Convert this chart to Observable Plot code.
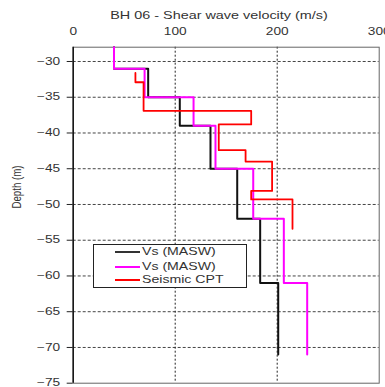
<!DOCTYPE html>
<html>
<head>
<meta charset="utf-8">
<script src="https://cdn.jsdelivr.net/npm/d3@7"></script>
<script src="https://cdn.jsdelivr.net/npm/@observablehq/plot@0.6"></script>
<style>
  html, body { margin: 0; padding: 0; background: #fff; overflow: hidden; }
  #wrap { position: relative; width: 385px; height: 387px; font-family: "Liberation Sans", Arial, sans-serif; color: #333; }
  .lbl { position: absolute; white-space: nowrap; line-height: 1; }
</style>
</head>
<body>
<div id="wrap"></div>
<script>
// ---- data ----
const titleText = "BH 06 - Shear wave velocity (m/s)";
const yLabel = "Depth (m)";
const seriesNames = ["Vs (MASW)", "Vs (MASW)", "Seismic CPT"];
const seriesColors = ["#111111", "#ff00ff", "#ff0000"];
const xTicks = [0, 100, 200, 300];
const yTicks = [-75, -70, -65, -60, -55, -50, -45, -40, -35, -30];

// layer boundaries (depth, m) and layer velocities (m/s)
const masw1Depth = [-28, -31, -35, -39, -45, -52, -61, -71];
const masw1Vs = [40, 73.5, 104.5, 134.6, 160.8, 183.3, 201];
const masw2Depth = [-28, -31, -35, -39, -45, -52, -61, -71];
const masw2Vs = [40, 70, 118, 139.5, 176.5, 206.5, 229.4];
const cptDepth = [-31.6, -32.9, -36.9, -38.8, -42.4, -44.0, -48.1, -49.3, -53.4];
const cptVs = [61, 69, 174.5, 142.7, 169, 195, 174.5, 215];

function steps(depth, vs) {
  const pts = [];
  vs.forEach((v, i) => {
    pts.push({v, d: depth[i]});
    pts.push({v, d: depth[i + 1]});
  });
  return pts;
}
const series = [steps(masw1Depth, masw1Vs), steps(masw2Depth, masw2Vs), steps(cptDepth, cptVs)];

const SX = 1.37;

const chart = Plot.plot({
  width: 385,
  height: 387,
  marginLeft: 72.7,
  marginRight: 6.3,
  marginTop: 46.7,
  marginBottom: 4.3,
  style: {fontFamily: "'Liberation Sans', Arial, sans-serif", fontSize: "10px", color: "#333", background: "#fff"},
  x: {domain: [0, 300]},
  y: {domain: [-75, -28]},
  marks: [
    Plot.gridY(yTicks.filter(t => t > -75), {stroke: "#444", strokeOpacity: 1, strokeDasharray: "3,2"}),
    Plot.gridX(xTicks.filter(t => t > 0 && t < 300), {stroke: "#222", strokeOpacity: 1, strokeDasharray: "2,2"}),
    Plot.frame({stroke: "#666"}),
    Plot.ruleX([0], {stroke: "#111", strokeWidth: 1.5}),
    Plot.axisX({anchor: "top", ticks: xTicks, tickSize: 0, tickPadding: 12, label: null, fill: "#333", fontSize: 10}),
    Plot.axisY({ticks: yTicks, tickSize: 6, tickPadding: 7, label: null, fill: "#333", stroke: "#222", fontSize: 10}),
    ...series.map((s, i) => Plot.line(s, {x: "v", y: "d", stroke: seriesColors[i], strokeWidth: i === 2 ? 1.8 : 2}))
  ]
});

// horizontal stretch of text, as in the reference
chart.querySelectorAll("text").forEach(t => {
  const tr = t.getAttribute("transform");
  if (tr) t.setAttribute("transform", tr + ` scale(${SX},1)`);
});

const wrap = document.getElementById("wrap");
chart.style.position = "absolute";
chart.style.left = "0px";
chart.style.top = "0px";
wrap.appendChild(chart);

// title
const title = document.createElement("div");
title.className = "lbl";
title.textContent = titleText;
Object.assign(title.style, {left: "219px", top: "15px", fontSize: "10.5px", transform: `translate(-50%,-50%) scaleX(${SX})`});
wrap.appendChild(title);

// y label
const yl = document.createElement("div");
yl.className = "lbl";
yl.textContent = yLabel;
Object.assign(yl.style, {left: "16.7px", top: "186.5px", fontSize: "9.7px", transform: `translate(-50%,-50%) rotate(-90deg) scaleY(1.3)`});
wrap.appendChild(yl);

// legend
const leg = document.createElement("div");
Object.assign(leg.style, {position: "absolute", left: "93.3px", top: "244px", width: "151.4px", height: "41.7px", border: "1px solid #222", background: "#fff"});
wrap.appendChild(leg);
const rowY = [6.7, 21.7, 35];
seriesNames.forEach((name, i) => {
  const line = document.createElement("div");
  Object.assign(line.style, {position: "absolute", left: "20.5px", top: (rowY[i] - 1) + "px", width: "25px", height: "2px", background: i === 0 ? "#333" : seriesColors[i]});
  leg.appendChild(line);
  const txt = document.createElement("div");
  txt.className = "lbl";
  txt.textContent = name;
  Object.assign(txt.style, {left: "48px", top: rowY[i] + "px", fontSize: "10.3px", transformOrigin: "left center", transform: `translateY(-50%) scaleX(${SX})`});
  leg.appendChild(txt);
});
</script>
</body>
</html>
